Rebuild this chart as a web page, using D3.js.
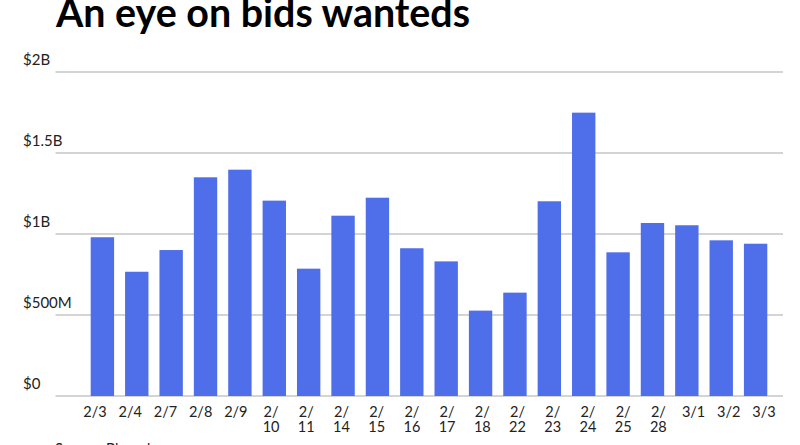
<!DOCTYPE html>
<html><head><meta charset="utf-8">
<script src="https://cdn.jsdelivr.net/npm/d3@7"></script>
<style>body{margin:0;background:#fff}svg{display:block}text{font-family:Lato,"Noto Sans",sans-serif}</style>
</head><body>
<svg id="c" width="800" height="445"></svg>
<script>
const categories = ["2/3","2/4","2/7","2/8","2/9","2/10","2/11","2/14","2/15","2/16","2/17","2/18","2/22","2/23","2/24","2/25","2/28","3/1","3/2","3/3"];
const values = [0.980,0.767,0.901,1.350,1.397,1.206,0.786,1.113,1.224,0.912,0.831,0.527,0.638,1.202,1.749,0.887,1.068,1.054,0.961,0.940];
const yTicks = [0,0.5,1,1.5,2];
const yTickLabels = ["$0","$500M","$1B","$1.5B","$2B"];
const title = "An eye on bids wanteds";
const source = "Source: Bloomberg";

const svg = d3.select("#c");
const y = d3.scaleLinear().domain([0,2]).range([396,72]);
const x = d3.scaleBand().domain(categories).range([90.7,767.3]).paddingInner(0.32).paddingOuter(0);
const xl = d3.scalePoint().domain(categories).range([95,764]);

svg.append("text").attr("x",56).attr("y",27).attr("font-size",39.4).attr("font-weight",700).attr("fill","#000").text(title);

// grid
svg.append("g").selectAll("line").data(yTicks).join("line")
  .attr("x1",55.5).attr("x2",783).attr("y1",d=>y(d)).attr("y2",d=>y(d))
  .attr("stroke","#c6c6c6").attr("stroke-width",1.5);
svg.append("g").selectAll("text").data(yTicks).join("text")
  .attr("x",23).attr("y",d=>y(d)-7).attr("font-size",15).attr("fill","#222")
  .text((d,i)=>yTickLabels[i]);

// bars
svg.append("g").selectAll("rect").data(values).join("rect")
  .attr("x",(d,i)=>x(categories[i])).attr("width",x.bandwidth())
  .attr("y",d=>y(d)).attr("height",d=>y(0)-y(d)).attr("fill","#4f6ee9");

// x labels (wrapped after "/" when too long for the band)
const xg = svg.append("g").selectAll("text").data(categories).join("text")
  .attr("x",d=>xl(d)).attr("y",417).attr("text-anchor","middle").attr("font-size",14.5).attr("fill","#222");
xg.each(function(d){
  const t = d3.select(this);
  const lines = d.length>3 ? [d.slice(0,d.indexOf("/")+1), d.slice(d.indexOf("/")+1)] : [d];
  lines.forEach((l,j)=>t.append("tspan").attr("x",xl(d)).attr("dy",j?15:0).text(l));
});

svg.append("text").attr("x",55).attr("y",454).attr("font-size",14.5).attr("fill","#222").text(source);
</script>
</body></html>
